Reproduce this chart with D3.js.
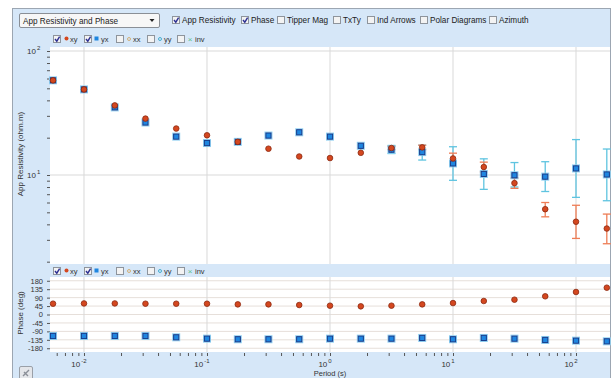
<!DOCTYPE html>
<html>
<head>
<meta charset="utf-8">
<script src="https://cdn.jsdelivr.net/npm/d3@7"></script>
<style>
  html, body { margin: 0; padding: 0; background: #ffffff; }
  svg { display: block; font-family: "Liberation Sans", Arial, sans-serif; }
</style>
</head>
<body>
<svg id="chart" width="612" height="378"></svg>
<script>
// ---- data ----
const periods = [0.0056, 0.01, 0.0178, 0.0316, 0.0562, 0.1, 0.178, 0.316, 0.562, 1,
                 1.78, 3.16, 5.62, 10, 17.8, 31.6, 56.2, 100, 178];

// apparent resistivity (ohm.m)
const rhoXY = [58, 49, 36.4, 28.5, 23.7, 20.9, 18.5, 16.3, 14.1, 13.7,
               15.1, 16.5, 16.7, 13.6, 11.6, 8.6, 5.3, 4.2, 3.7];
const rhoYX = [58, 49, 35.1, 26.5, 20.4, 18.1, 18.5, 20.8, 22.1, 20.4,
               17.2, 16.0, 15.3, 12.4, 10.2, 9.95, 9.7, 11.3, 10.1];

// resistivity error bounds (null = no bar)
const rhoXYLo = [null, null, null, null, null, null, null, null, null, null,
                 null, 16.0, 16.0, 12.3, 10.6, 7.8, 4.6, 3.08, 2.79];
const rhoXYHi = [null, null, null, null, null, null, null, null, null, null,
                 null, 17.0, 17.4, 15.0, 12.7, 9.46, 6.0, 5.7, 4.84];
const rhoYXLo = [null, null, null, null, null, null, null, null, null, null,
                 null, 14.9, 13.2, 9.06, 7.66, 8.0, 7.36, 6.6, 6.2];
const rhoYXHi = [null, null, null, null, null, null, null, null, null, null,
                 null, 17.3, 17.4, 16.9, 13.5, 12.6, 12.8, 19.3, 16.2];

// phase (deg)
const phaseXY = [57.7, 59, 59, 57.5, 57.5, 57.5, 54, 54, 50.6, 47,
                 43.6, 47, 54, 61, 72, 79, 97, 120, 143];
const phaseYX = [-114.5, -114.5, -114.5, -114.5, -121.6, -128.8, -132, -132, -132, -128.8,
                 -128.8, -128.8, -125, -132, -125, -128.8, -135.8, -139.5, -143];

const phaseTicks = [180, 135, 90, 45, 0, -45, -90, -135, -180];
const decadeExps = [-2, -1, 0, 1, 2];
const rhoDecadeExps = [1, 2];

const viewLabel = "App Resistivity and Phase";
const toolbarLabels = ["App Resistivity", "Phase", "Tipper Mag", "TxTy", "Ind Arrows", "Polar Diagrams", "Azimuth"];
const toolbarChecked = [true, true, false, false, false, false, false];
const legendLabels = ["xy", "yx", "xx", "yy", "inv"];
const legendChecked = [true, true, false, false, false];

const rhoAxisTitle = "App Resistivity (ohm.m)";
const phaseAxisTitle = "Phase (deg)";
const periodAxisTitle = "Period (s)";

// ---- layout ----
const svg = d3.select("#chart");
const W = 612, H = 378;
const panelBg = "#d6e7f8";
const plotL = 50, plotR = 610;
const rhoTop = 47, rhoBot = 264;
const phTop = 277, phBot = 352;

const C = {
  red: "#d4471f", redEdge: "#8a2810",
  blue: "#1f86e0", blueEdge: "#133a8a", blueHalo: "#8fd0f2",
  redErr: "#ee7d55", blueErr: "#5fc4e0",
  grid: "#d9d9d9", phGrid: "#e6dfda",
  tick: "#555", text: "#333"
};

// outer frame
svg.append("rect").attr("x", 0).attr("y", 0).attr("width", W).attr("height", H).attr("fill", "#ffffff");
svg.append("rect").attr("x", 12.5).attr("y", 8.5).attr("width", 598).attr("height", H)
  .attr("fill", panelBg).attr("stroke", "#9ca6b2").attr("stroke-width", 1);

// ---- scales ----
const x = d3.scaleLog().domain([Math.pow(10, -2.2764), Math.pow(10, 2.2764)]).range([plotL, plotR]);
const yR = d3.scaleLog().domain([Math.pow(10, 1 - 89 / 124), Math.pow(10, 2 + 4 / 124)]).range([rhoBot, rhoTop]);
const yP = d3.scaleLinear().domain([-200, 200]).range([phBot, phTop]);

// plot backgrounds
svg.append("rect").attr("x", plotL).attr("y", rhoTop).attr("width", plotR - plotL).attr("height", rhoBot - rhoTop).attr("fill", "#ffffff");
svg.append("rect").attr("x", plotL).attr("y", phTop).attr("width", plotR - plotL).attr("height", phBot - phTop).attr("fill", "#ffffff");

// minor/major tick values
const minorX = [];
for (let e = -3; e <= 2; e++) for (let m = 1; m <= 9; m++) {
  const v = m * Math.pow(10, e);
  if (x(v) >= plotL && x(v) <= plotR) minorX.push(v);
}
const minorY = [];
for (let e = 0; e <= 2; e++) for (let m = 1; m <= 9; m++) {
  const v = m * Math.pow(10, e);
  if (yR(v) >= rhoTop && yR(v) <= rhoBot + 0.5) minorY.push(v);
}

// ---- grid ----
const gR = svg.append("g");
gR.selectAll("line.v").data(decadeExps).join("line")
  .attr("x1", d => x(Math.pow(10, d))).attr("x2", d => x(Math.pow(10, d)))
  .attr("y1", rhoTop).attr("y2", rhoBot).attr("stroke", C.grid).attr("stroke-width", 1);
gR.selectAll("line.h").data(rhoDecadeExps).join("line")
  .attr("x1", plotL).attr("x2", plotR)
  .attr("y1", d => yR(Math.pow(10, d))).attr("y2", d => yR(Math.pow(10, d)))
  .attr("stroke", C.grid).attr("stroke-width", 1);

const gP = svg.append("g");
gP.selectAll("line.h").data(phaseTicks).join("line")
  .attr("x1", plotL).attr("x2", plotR)
  .attr("y1", d => yP(d)).attr("y2", d => yP(d))
  .attr("stroke", C.phGrid).attr("stroke-width", 1);
gP.selectAll("line.v").data(decadeExps).join("line")
  .attr("x1", d => x(Math.pow(10, d))).attr("x2", d => x(Math.pow(10, d)))
  .attr("y1", phTop).attr("y2", phBot).attr("stroke", C.grid).attr("stroke-width", 1);

// ---- axes ----
const axR = svg.append("g").attr("transform", `translate(${plotL},0)`)
  .call(d3.axisLeft(yR).tickValues(minorY).tickSize(3).tickFormat(""));
const axP = svg.append("g").attr("transform", `translate(${plotL},0)`)
  .call(d3.axisLeft(yP).tickValues(phaseTicks).tickSize(3).tickPadding(4).tickFormat(d => String(d)));
const axX = svg.append("g").attr("transform", `translate(0,${phBot + 1})`)
  .call(d3.axisBottom(x).tickValues(minorX).tickSize(3).tickFormat(""));
[axR, axP, axX].forEach(a => {
  a.select(".domain").remove();
  a.selectAll(".tick line").attr("stroke", C.tick);
});
axP.selectAll(".tick text").attr("fill", C.text).attr("font-size", 7.5)
  .attr("font-family", "Liberation Sans, Arial, sans-serif");

// decade labels with superscripts
function powLabel(g, px, py, exp, anchor) {
  const t = g.append("text").attr("x", px).attr("y", py).attr("fill", C.text)
    .attr("font-size", 8).attr("text-anchor", anchor);
  t.append("tspan").text("10");
  t.append("tspan").attr("dy", -4).attr("dx", 1).attr("font-size", 6).text(exp);
}
rhoDecadeExps.forEach(e => powLabel(svg, 27, yR(Math.pow(10, e)) + 3, e, "start"));
decadeExps.forEach(e => powLabel(svg, x(Math.pow(10, e)) - 5, 366.5, e, "middle"));

// axis titles
svg.append("text").attr("transform", `translate(23,154) rotate(-90)`)
  .attr("text-anchor", "middle").attr("font-size", 8).attr("fill", C.text).text(rhoAxisTitle);
svg.append("text").attr("transform", `translate(23,313) rotate(-90)`)
  .attr("text-anchor", "middle").attr("font-size", 8).attr("fill", C.text).text(phaseAxisTitle);
svg.append("text").attr("x", x(1)).attr("y", 375.5)
  .attr("text-anchor", "middle").attr("font-size", 7.5).attr("fill", C.text).text(periodAxisTitle);

// ---- marks ----
const idx = d3.range(periods.length);

function errBars(g, lo, hi, color) {
  const ids = idx.filter(i => lo[i] != null);
  g.selectAll(null).data(ids).join("line")
    .attr("x1", i => x(periods[i])).attr("x2", i => x(periods[i]))
    .attr("y1", i => yR(lo[i])).attr("y2", i => yR(hi[i]))
    .attr("stroke", color).attr("stroke-width", 1.3);
  [lo, hi].forEach(arr => {
    g.selectAll(null).data(ids).join("line")
      .attr("x1", i => x(periods[i]) - 4).attr("x2", i => x(periods[i]) + 4)
      .attr("y1", i => yR(arr[i])).attr("y2", i => yR(arr[i]))
      .attr("stroke", color).attr("stroke-width", 1.3);
  });
}

function squares(g, ys) {
  g.selectAll(null).data(idx).join("rect")
    .attr("x", i => x(periods[i]) - 3.5).attr("y", i => ys(i) - 3.5)
    .attr("width", 7).attr("height", 7)
    .attr("fill", "none").attr("stroke", C.blueHalo).attr("stroke-width", 1);
  g.selectAll(null).data(idx).join("rect")
    .attr("x", i => x(periods[i]) - 2.6).attr("y", i => ys(i) - 2.6)
    .attr("width", 5.2).attr("height", 5.2)
    .attr("fill", C.blue).attr("stroke", C.blueEdge).attr("stroke-width", 1);
}
function circles(g, ys) {
  g.selectAll(null).data(idx).join("circle")
    .attr("cx", i => x(periods[i])).attr("cy", i => ys(i)).attr("r", 2.8)
    .attr("fill", C.red).attr("stroke", C.redEdge).attr("stroke-width", 0.8);
}

const mR = svg.append("g");
errBars(mR, rhoYXLo, rhoYXHi, C.blueErr);
errBars(mR, rhoXYLo, rhoXYHi, C.redErr);
squares(mR, i => yR(rhoYX[i]));
circles(mR, i => yR(rhoXY[i]));

const mP = svg.append("g");
squares(mP, i => yP(phaseYX[i]));
circles(mP, i => yP(phaseXY[i]));

// ---- controls ----
function checkbox(g, cx, cy, checked) {
  g.append("rect").attr("x", cx + 0.5).attr("y", cy - 3.5).attr("width", 7).attr("height", 7)
    .attr("fill", "#f3f3f3").attr("stroke", "#8e949c").attr("stroke-width", 1);
  if (checked) {
    g.append("path")
      .attr("d", `M${cx + 2},${cy} L${cx + 3.8},${cy + 2.2} L${cx + 6.6},${cy - 2.4}`)
      .attr("fill", "none").attr("stroke", "#2c2f92").attr("stroke-width", 1.4);
  }
}

// view selector
const tb = svg.append("g");
tb.append("rect").attr("x", 19.5).attr("y", 13.5).attr("width", 140).attr("height", 14).attr("rx", 1.5)
  .attr("fill", "#f7f7f7").attr("stroke", "#8a8f96");
tb.append("text").attr("x", 23).attr("y", 23.5).attr("font-size", 8.2).attr("fill", "#222").text(viewLabel);
tb.append("path").attr("d", "M149.5,19 L154.5,19 L152,22 Z").attr("fill", "#222");

// toolbar check boxes
const tbBoxX = [172, 241, 277, 333, 367, 420, 489];
toolbarLabels.forEach((lab, i) => {
  checkbox(tb, tbBoxX[i], 20, toolbarChecked[i]);
  tb.append("text").attr("x", tbBoxX[i] + 10).attr("y", 23).attr("font-size", 8.2)
    .attr("fill", "#222").text(lab);
});

// series legends above each plot
const legBoxX = [53, 84, 116, 147, 177];
const legSymX = [66.5, 96.5, 129, 160, 190];
const legTextX = [70, 101, 133, 164, 195];
function legendRow(cy) {
  const g = svg.append("g");
  legendLabels.forEach((lab, i) => {
    checkbox(g, legBoxX[i], cy, legendChecked[i]);
    const sx = legSymX[i];
    if (i === 0) g.append("circle").attr("cx", sx).attr("cy", cy - 0.5).attr("r", 2).attr("fill", C.red);
    if (i === 1) g.append("rect").attr("x", sx - 2).attr("y", cy - 2.5).attr("width", 4).attr("height", 4).attr("fill", C.blue);
    if (i === 2) g.append("circle").attr("cx", sx).attr("cy", cy).attr("r", 1.5).attr("fill", "none").attr("stroke", "#d2aa6a").attr("stroke-width", 0.9);
    if (i === 3) g.append("circle").attr("cx", sx).attr("cy", cy).attr("r", 1.5).attr("fill", "none").attr("stroke", "#3aa8cc").attr("stroke-width", 0.9);
    if (i === 4) g.append("text").attr("x", sx).attr("y", cy + 2.5).attr("text-anchor", "middle")
      .attr("font-size", 8).attr("fill", "#5cc08a").text("×");
    g.append("text").attr("x", legTextX[i]).attr("y", cy + 2.5).attr("font-size", 7.5)
      .attr("fill", "#333").text(lab);
  });
}
legendRow(39);
legendRow(271);

// corner tool button
const btn = svg.append("g");
btn.append("rect").attr("x", 19.5).attr("y", 366.5).attr("width", 13).attr("height", 13).attr("rx", 1.5)
  .attr("fill", "#e4e6ea").attr("stroke", "#9aa0a8");
btn.append("path").attr("d", "M23,376 L29,370 M24,372 L28,376").attr("stroke", "#8a8f98").attr("stroke-width", 1.4);
</script>
</body>
</html>
